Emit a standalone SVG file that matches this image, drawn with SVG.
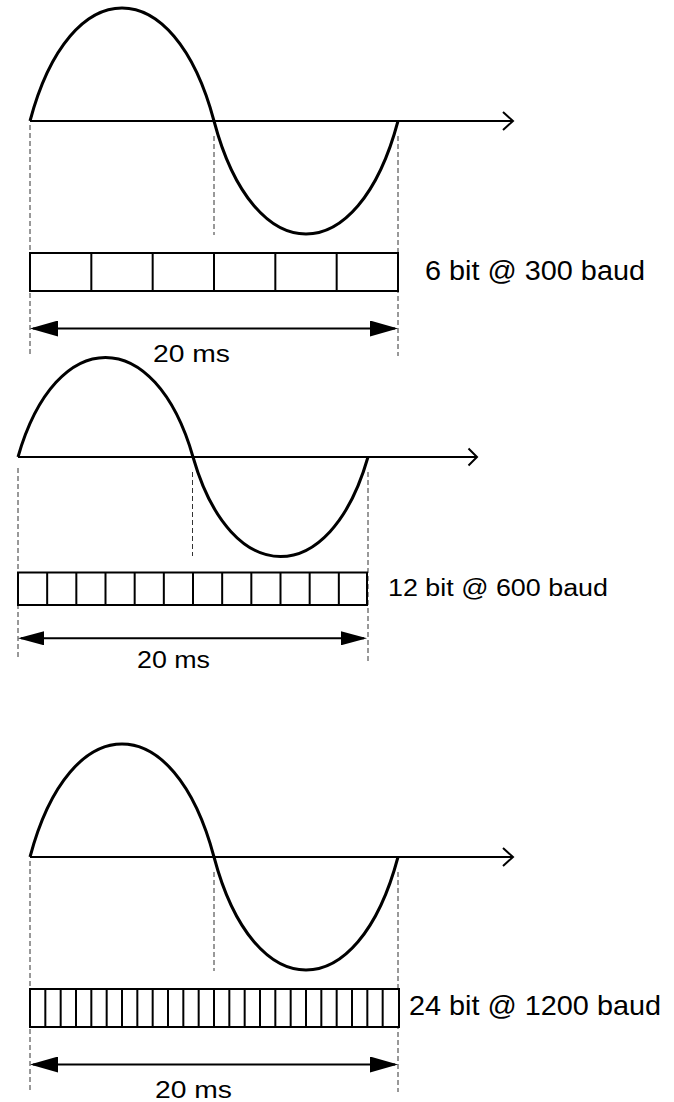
<svg xmlns="http://www.w3.org/2000/svg" width="674" height="1102" viewBox="0 0 674 1102">
  <style>
    .wave { fill: none; stroke: #000; stroke-width: 3; }
    .axis { fill: none; stroke: #000; stroke-width: 2; }
    .guide { fill: none; stroke: #333; stroke-width: 1; stroke-dasharray: 5 3; }
    .box { fill: #fff; stroke: #000; stroke-width: 2; }
    .cells { fill: none; stroke: #000; stroke-width: 2; }
    .dim { fill: none; stroke: #000; stroke-width: 2; }
    .lbl { font-family: "Liberation Sans", Arial, sans-serif; fill: #000; }
  </style>
  <defs>
    <marker id="chev" markerUnits="userSpaceOnUse" viewBox="-1 -1 13 20" markerWidth="13" markerHeight="20" refX="10" refY="9" orient="auto" overflow="visible">
      <path d="M0,0 L10,9 L0,18" fill="none" stroke="#000" stroke-width="2"/>
    </marker>
    <marker id="chevS" markerUnits="userSpaceOnUse" viewBox="-1 -1 11 19" markerWidth="11" markerHeight="19" refX="8.5" refY="8.5" orient="auto" overflow="visible">
      <path d="M0,0 L8.5,8.5 L0,17" fill="none" stroke="#000" stroke-width="2"/>
    </marker>
    <marker id="tri" markerUnits="userSpaceOnUse" viewBox="0 0 28 16" markerWidth="28" markerHeight="16" refX="25" refY="8" orient="auto-start-reverse">
      <path d="M0,0 L28,8 L0,16 Z" fill="#000"/>
    </marker>
    <marker id="triS" markerUnits="userSpaceOnUse" viewBox="0 0 26 14" markerWidth="26" markerHeight="14" refX="23" refY="7" orient="auto-start-reverse">
      <path d="M0,0 L26,7 L0,14 Z" fill="#000"/>
    </marker>
  </defs>

  <!-- Panel 1: 6 bit @ 300 baud -->
  <g id="panel1">
    <g id="p1-guides">
      <line class="guide" x1="30" y1="125" x2="30" y2="355"/>
      <line class="guide" x1="214" y1="136" x2="214" y2="235"/>
      <line class="guide" x1="398" y1="136" x2="398" y2="356"/>
    </g>
    <line id="p1-axis" class="axis" x1="30" y1="121" x2="513" y2="121" marker-end="url(#chev)"/>
    <path id="p1-wave" class="wave" d="M30,121 C70,-29.7 174,-29.7 214,121 C254,271.7 358,271.7 398,121"/>
    <g id="p1-bits">
      <rect class="box" x="30" y="253" width="368" height="38"/>
      <path class="cells" d="M91.33,253v38 M152.67,253v38 M214,253v38 M275.33,253v38 M336.67,253v38"/>
    </g>
    <text id="p1-label" class="lbl" x="425" y="280" font-size="27" textLength="220" lengthAdjust="spacingAndGlyphs">6 bit @ 300 baud</text>
  </g>

  <!-- Panel 2: 12 bit @ 600 baud -->
  <g id="panel2">
    <g id="p2-guides">
      <line class="guide" x1="18" y1="468" x2="18" y2="660"/>
      <line class="guide" x1="192.5" y1="472" x2="192.5" y2="556"/>
      <line class="guide" x1="368" y1="472" x2="368" y2="664"/>
    </g>
    <line id="p2-axis" class="axis" x1="18" y1="457" x2="477" y2="457" marker-end="url(#chevS)"/>
    <path id="p2-wave" class="wave" d="M18,457 C56,324.3 155,324.3 193,457 C231,589.7 330,589.7 368,457"/>
    <g id="p2-bits">
      <rect class="box" x="18" y="572.5" width="349" height="32.5"/>
      <path class="cells" d="M47.17,572.5v32.5 M76.33,572.5v32.5 M105.5,572.5v32.5 M134.67,572.5v32.5 M163.83,572.5v32.5 M193,572.5v32.5 M222.17,572.5v32.5 M251.33,572.5v32.5 M280.5,572.5v32.5 M309.67,572.5v32.5 M338.83,572.5v32.5"/>
    </g>
    <text id="p2-label" class="lbl" x="388" y="596" font-size="23" textLength="220" lengthAdjust="spacingAndGlyphs">12 bit @ 600 baud</text>
  </g>

  <!-- Panel 3: 24 bit @ 1200 baud -->
  <g id="panel3">
    <g id="p3-guides">
      <line class="guide" x1="30" y1="861" x2="30" y2="1091"/>
      <line class="guide" x1="214" y1="872" x2="214" y2="971"/>
      <line class="guide" x1="398" y1="872" x2="398" y2="1092"/>
    </g>
    <line id="p3-axis" class="axis" x1="30" y1="857" x2="513" y2="857" marker-end="url(#chev)"/>
    <path id="p3-wave" class="wave" d="M30,857 C70,706.3 174,706.3 214,857 C254,1007.7 358,1007.7 398,857"/>
    <g id="p3-bits">
      <rect class="box" x="30" y="989" width="369" height="38"/>
      <path class="cells" d="M45.33,989v38 M60.67,989v38 M76,989v38 M91.33,989v38 M106.67,989v38 M122,989v38 M137.33,989v38 M152.67,989v38 M168,989v38 M183.33,989v38 M198.67,989v38 M214,989v38 M229.33,989v38 M244.67,989v38 M260,989v38 M275.33,989v38 M290.67,989v38 M306,989v38 M321.33,989v38 M336.67,989v38 M352,989v38 M367.33,989v38 M382.67,989v38"/>
    </g>
    <text id="p3-label" class="lbl" x="409" y="1015" font-size="28" textLength="252" lengthAdjust="spacingAndGlyphs">24 bit @ 1200 baud</text>
  </g>

  <!-- Connectors: 20 ms dimension arrows -->
  <g id="connectors">
    <line class="dim" x1="33" y1="328.5" x2="395" y2="328.5" marker-start="url(#tri)" marker-end="url(#tri)"/>
    <line class="dim" x1="21" y1="638.3" x2="364" y2="638.3" marker-start="url(#triS)" marker-end="url(#triS)"/>
    <line class="dim" x1="33" y1="1064.5" x2="395" y2="1064.5" marker-start="url(#tri)" marker-end="url(#tri)"/>
  </g>
  <g id="dim-labels">
    <text class="lbl" x="153" y="362" font-size="24" textLength="77" lengthAdjust="spacingAndGlyphs">20 ms</text>
    <text class="lbl" x="137" y="668" font-size="24" textLength="73" lengthAdjust="spacingAndGlyphs">20 ms</text>
    <text class="lbl" x="155" y="1098" font-size="24" textLength="77" lengthAdjust="spacingAndGlyphs">20 ms</text>
  </g>
</svg>
